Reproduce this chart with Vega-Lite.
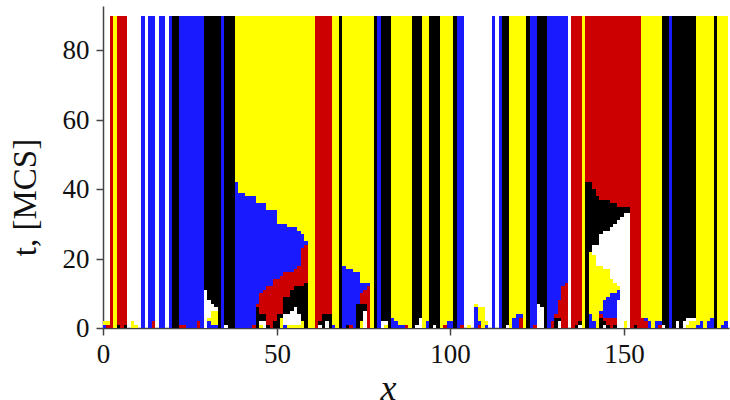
{"$schema":"https://vega.github.io/schema/vega-lite/v6.json","width":626,"height":322,"autosize":"none","padding":{"left":103,"top":6,"right":1,"bottom":72},"background":"white","view":{"stroke":null},"config":{"font":"Liberation Serif"},"data":{"values":[
{"x":2,"x2":3,"t":0,"t2":90,"c":"red"},{"x":3,"x2":4,"t":0,"t2":90,"c":"yellow"},{"x":4,"x2":7,"t":0,"t2":90,"c":"red"},{"x":11,"x2":12,"t":0,"t2":90,"c":"blue"},{"x":13,"x2":15,"t":0,"t2":90,"c":"blue"},{"x":16,"x2":18,"t":0,"t2":90,"c":"blue"},{"x":19,"x2":20,"t":0,"t2":90,"c":"blue"},{"x":20,"x2":22,"t":0,"t2":90,"c":"black"},{"x":22,"x2":29,"t":0,"t2":90,"c":"blue"},{"x":29,"x2":34,"t":0,"t2":90,"c":"black"},{"x":34,"x2":35,"t":0,"t2":90,"c":"blue"},{"x":35,"x2":38,"t":0,"t2":90,"c":"black"},{"x":38,"x2":61,"t":0,"t2":90,"c":"yellow"},{"x":61,"x2":66,"t":0,"t2":90,"c":"red"},{"x":66,"x2":68,"t":0,"t2":90,"c":"yellow"},{"x":68,"x2":69,"t":0,"t2":90,"c":"black"},{"x":69,"x2":78,"t":0,"t2":90,"c":"yellow"},{"x":78,"x2":79,"t":0,"t2":90,"c":"black"},{"x":79,"x2":80,"t":0,"t2":90,"c":"blue"},{"x":80,"x2":83,"t":0,"t2":90,"c":"black"},{"x":83,"x2":89,"t":0,"t2":90,"c":"yellow"},{"x":89,"x2":92,"t":0,"t2":90,"c":"black"},{"x":92,"x2":94,"t":0,"t2":90,"c":"yellow"},{"x":94,"x2":97,"t":0,"t2":90,"c":"black"},{"x":97,"x2":101,"t":0,"t2":90,"c":"yellow"},{"x":101,"x2":102,"t":0,"t2":90,"c":"black"},{"x":102,"x2":104,"t":0,"t2":90,"c":"blue"},{"x":112,"x2":113,"t":0,"t2":90,"c":"blue"},{"x":114,"x2":115,"t":0,"t2":90,"c":"blue"},{"x":115,"x2":117,"t":0,"t2":90,"c":"black"},{"x":117,"x2":122,"t":0,"t2":90,"c":"yellow"},{"x":122,"x2":123,"t":0,"t2":90,"c":"black"},{"x":123,"x2":125,"t":0,"t2":90,"c":"blue"},{"x":125,"x2":128,"t":0,"t2":90,"c":"black"},{"x":128,"x2":134,"t":0,"t2":90,"c":"blue"},{"x":135,"x2":138,"t":0,"t2":90,"c":"red"},{"x":138,"x2":139,"t":0,"t2":90,"c":"yellow"},{"x":139,"x2":155,"t":0,"t2":90,"c":"red"},{"x":155,"x2":161,"t":0,"t2":90,"c":"yellow"},{"x":161,"x2":163,"t":0,"t2":90,"c":"black"},{"x":163,"x2":164,"t":0,"t2":90,"c":"blue"},{"x":164,"x2":171,"t":0,"t2":90,"c":"black"},{"x":171,"x2":176,"t":0,"t2":90,"c":"yellow"},{"x":176,"x2":177,"t":0,"t2":90,"c":"black"},{"x":177,"x2":180,"t":0,"t2":90,"c":"yellow"},
{"x":0,"x2":1,"t":0,"t2":1,"c":"blue"},{"x":1,"x2":2,"t":0,"t2":1,"c":"red"},{"x":0,"x2":2,"t":1,"t2":2,"c":"yellow"},{"x":4,"x2":5,"t":0,"t2":1,"c":"black"},{"x":6,"x2":7,"t":0,"t2":1,"c":"black"},{"x":8,"x2":9,"t":0,"t2":2,"c":"yellow"},{"x":9,"x2":10,"t":0,"t2":1,"c":"yellow"},{"x":14,"x2":15,"t":0,"t2":2,"c":"red"},{"x":22,"x2":24,"t":0,"t2":1,"c":"red"},{"x":27,"x2":28,"t":0,"t2":2,"c":"red"},
{"x":29,"x2":30,"t":0,"t2":11,"c":"white"},{"x":30,"x2":31,"t":3,"t2":8,"c":"white"},{"x":30,"x2":31,"t":2,"t2":3,"c":"yellow"},{"x":30,"x2":31,"t":0,"t2":2,"c":"blue"},{"x":31,"x2":32,"t":5,"t2":7,"c":"white"},{"x":32,"x2":33,"t":5,"t2":6,"c":"white"},{"x":31,"x2":33,"t":1,"t2":5,"c":"yellow"},{"x":31,"x2":33,"t":0,"t2":1,"c":"blue"},{"x":35,"x2":36,"t":0,"t2":1,"c":"white"},
{"x":38,"x2":39,"t":0,"t2":42,"c":"blue"},{"x":39,"x2":41,"t":0,"t2":39,"c":"blue"},{"x":41,"x2":44,"t":0,"t2":38,"c":"blue"},{"x":44,"x2":47,"t":0,"t2":36,"c":"blue"},{"x":47,"x2":50,"t":0,"t2":34,"c":"blue"},{"x":50,"x2":53,"t":0,"t2":30,"c":"blue"},{"x":53,"x2":56,"t":0,"t2":29,"c":"blue"},{"x":56,"x2":57,"t":0,"t2":28,"c":"blue"},{"x":57,"x2":58,"t":0,"t2":27,"c":"blue"},{"x":58,"x2":59,"t":0,"t2":25,"c":"blue"},{"x":43,"x2":44,"t":0,"t2":1,"c":"red"},
{"x":44,"x2":45,"t":0,"t2":7,"c":"red"},{"x":45,"x2":46,"t":0,"t2":10,"c":"red"},{"x":46,"x2":47,"t":0,"t2":11,"c":"red"},{"x":47,"x2":49,"t":0,"t2":12,"c":"red"},{"x":49,"x2":51,"t":0,"t2":14,"c":"red"},{"x":51,"x2":52,"t":0,"t2":15,"c":"red"},{"x":52,"x2":55,"t":0,"t2":16,"c":"red"},{"x":55,"x2":56,"t":0,"t2":17,"c":"red"},{"x":56,"x2":57,"t":0,"t2":18,"c":"red"},{"x":57,"x2":58,"t":0,"t2":23,"c":"red"},{"x":58,"x2":59,"t":0,"t2":24,"c":"red"},
{"x":44,"x2":45,"t":0,"t2":6,"c":"black"},{"x":45,"x2":47,"t":0,"t2":4,"c":"black"},{"x":47,"x2":48,"t":0,"t2":1,"c":"black"},{"x":49,"x2":50,"t":0,"t2":2,"c":"black"},{"x":50,"x2":52,"t":0,"t2":4,"c":"black"},{"x":52,"x2":54,"t":0,"t2":9,"c":"black"},{"x":54,"x2":55,"t":0,"t2":11,"c":"black"},{"x":55,"x2":58,"t":0,"t2":12,"c":"black"},{"x":58,"x2":59,"t":0,"t2":13,"c":"black"},
{"x":45,"x2":47,"t":0,"t2":2,"c":"white"},{"x":45,"x2":46,"t":0,"t2":1,"c":"yellow"},{"x":52,"x2":54,"t":1,"t2":4,"c":"white"},{"x":54,"x2":55,"t":1,"t2":5,"c":"white"},{"x":55,"x2":56,"t":1,"t2":6,"c":"white"},{"x":56,"x2":57,"t":1,"t2":4,"c":"white"},{"x":51,"x2":52,"t":0,"t2":3,"c":"yellow"},{"x":52,"x2":53,"t":0,"t2":1,"c":"blue"},{"x":53,"x2":57,"t":0,"t2":1,"c":"yellow"},{"x":57,"x2":58,"t":0,"t2":2,"c":"yellow"},
{"x":62,"x2":63,"t":0,"t2":2,"c":"black"},{"x":62,"x2":63,"t":0,"t2":1,"c":"white"},{"x":63,"x2":66,"t":0,"t2":4,"c":"black"},{"x":64,"x2":65,"t":0,"t2":2,"c":"white"},{"x":66,"x2":67,"t":0,"t2":1,"c":"blue"},
{"x":69,"x2":70,"t":0,"t2":18,"c":"blue"},{"x":70,"x2":72,"t":0,"t2":17,"c":"blue"},{"x":72,"x2":74,"t":0,"t2":16,"c":"blue"},{"x":74,"x2":77,"t":0,"t2":13,"c":"blue"},{"x":76,"x2":77,"t":0,"t2":12,"c":"red"},{"x":75,"x2":76,"t":7,"t2":11,"c":"red"},{"x":74,"x2":75,"t":7,"t2":10,"c":"red"},{"x":73,"x2":76,"t":0,"t2":7,"c":"black"},{"x":75,"x2":76,"t":0,"t2":5,"c":"white"},{"x":74,"x2":75,"t":0,"t2":2,"c":"yellow"},{"x":70,"x2":71,"t":0,"t2":1,"c":"black"},{"x":71,"x2":72,"t":0,"t2":1,"c":"red"},
{"x":80,"x2":82,"t":0,"t2":2,"c":"white"},{"x":81,"x2":82,"t":0,"t2":1,"c":"yellow"},{"x":83,"x2":84,"t":0,"t2":3,"c":"blue"},{"x":84,"x2":85,"t":0,"t2":2,"c":"blue"},{"x":85,"x2":87,"t":0,"t2":1,"c":"blue"},{"x":87,"x2":88,"t":0,"t2":1,"c":"red"},{"x":90,"x2":92,"t":0,"t2":1,"c":"white"},{"x":91,"x2":92,"t":0,"t2":3,"c":"white"},{"x":93,"x2":94,"t":0,"t2":2,"c":"blue"},{"x":95,"x2":96,"t":0,"t2":1,"c":"white"},{"x":99,"x2":101,"t":0,"t2":2,"c":"blue"},{"x":98,"x2":99,"t":0,"t2":1,"c":"red"},{"x":103,"x2":104,"t":0,"t2":1,"c":"red"},{"x":105,"x2":106,"t":0,"t2":1,"c":"yellow"},
{"x":107,"x2":108,"t":0,"t2":6,"c":"blue"},{"x":107,"x2":108,"t":6,"t2":7,"c":"yellow"},{"x":108,"x2":110,"t":0,"t2":6,"c":"yellow"},{"x":108,"x2":109,"t":0,"t2":2,"c":"blue"},{"x":108,"x2":109,"t":0,"t2":1,"c":"red"},{"x":110,"x2":111,"t":0,"t2":2,"c":"yellow"},{"x":110,"x2":111,"t":0,"t2":1,"c":"blue"},{"x":116,"x2":117,"t":0,"t2":1,"c":"white"},{"x":118,"x2":119,"t":0,"t2":3,"c":"blue"},{"x":119,"x2":121,"t":0,"t2":4,"c":"blue"},{"x":120,"x2":121,"t":0,"t2":3,"c":"red"},
{"x":124,"x2":125,"t":0,"t2":1,"c":"red"},{"x":125,"x2":126,"t":0,"t2":7,"c":"white"},{"x":126,"x2":127,"t":0,"t2":6,"c":"white"},{"x":129,"x2":130,"t":0,"t2":2,"c":"red"},{"x":130,"x2":131,"t":0,"t2":4,"c":"red"},{"x":131,"x2":132,"t":0,"t2":8,"c":"red"},{"x":132,"x2":133,"t":0,"t2":12,"c":"red"},{"x":133,"x2":134,"t":0,"t2":13,"c":"red"},{"x":130,"x2":132,"t":0,"t2":3,"c":"black"},{"x":131,"x2":132,"t":0,"t2":2,"c":"white"},{"x":136,"x2":137,"t":0,"t2":1,"c":"black"},{"x":137,"x2":138,"t":0,"t2":2,"c":"black"},{"x":137,"x2":138,"t":0,"t2":1,"c":"white"},
{"x":139,"x2":141,"t":0,"t2":42,"c":"black"},{"x":141,"x2":142,"t":0,"t2":40,"c":"black"},{"x":142,"x2":143,"t":0,"t2":38,"c":"black"},{"x":143,"x2":146,"t":0,"t2":37,"c":"black"},{"x":146,"x2":148,"t":0,"t2":36,"c":"black"},{"x":148,"x2":152,"t":0,"t2":35,"c":"black"},
{"x":150,"x2":152,"t":0,"t2":33,"c":"white"},{"x":149,"x2":150,"t":0,"t2":32,"c":"white"},{"x":148,"x2":149,"t":0,"t2":31,"c":"white"},{"x":147,"x2":148,"t":0,"t2":30,"c":"white"},{"x":146,"x2":147,"t":0,"t2":29,"c":"white"},{"x":144,"x2":146,"t":0,"t2":28,"c":"white"},{"x":143,"x2":144,"t":0,"t2":27,"c":"white"},{"x":141,"x2":143,"t":0,"t2":24,"c":"white"},
{"x":140,"x2":141,"t":0,"t2":22,"c":"yellow"},{"x":141,"x2":142,"t":0,"t2":21,"c":"yellow"},{"x":142,"x2":144,"t":0,"t2":18,"c":"yellow"},{"x":144,"x2":146,"t":0,"t2":17,"c":"yellow"},{"x":146,"x2":147,"t":0,"t2":14,"c":"yellow"},{"x":147,"x2":148,"t":0,"t2":13,"c":"yellow"},{"x":148,"x2":149,"t":10,"t2":12,"c":"yellow"},
{"x":140,"x2":141,"t":0,"t2":4,"c":"blue"},{"x":141,"x2":142,"t":0,"t2":2,"c":"blue"},{"x":143,"x2":144,"t":0,"t2":5,"c":"blue"},{"x":144,"x2":145,"t":0,"t2":8,"c":"blue"},{"x":145,"x2":146,"t":0,"t2":9,"c":"blue"},{"x":146,"x2":148,"t":0,"t2":10,"c":"blue"},{"x":148,"x2":149,"t":8,"t2":11,"c":"blue"},
{"x":143,"x2":148,"t":0,"t2":3,"c":"red"},{"x":143,"x2":144,"t":3,"t2":4,"c":"red"},{"x":143,"x2":144,"t":0,"t2":3,"c":"black"},{"x":144,"x2":145,"t":0,"t2":2,"c":"black"},{"x":144,"x2":145,"t":0,"t2":1,"c":"white"},{"x":145,"x2":146,"t":0,"t2":1,"c":"black"},{"x":147,"x2":148,"t":0,"t2":1,"c":"black"},{"x":150,"x2":151,"t":0,"t2":2,"c":"yellow"},
{"x":153,"x2":154,"t":0,"t2":1,"c":"black"},{"x":155,"x2":156,"t":0,"t2":3,"c":"red"},{"x":156,"x2":157,"t":0,"t2":2,"c":"red"},{"x":156,"x2":157,"t":2,"t2":3,"c":"blue"},{"x":157,"x2":158,"t":0,"t2":2,"c":"blue"},{"x":159,"x2":161,"t":0,"t2":2,"c":"blue"},{"x":160,"x2":161,"t":0,"t2":1,"c":"red"},{"x":161,"x2":162,"t":0,"t2":1,"c":"white"},
{"x":165,"x2":166,"t":0,"t2":2,"c":"white"},{"x":167,"x2":168,"t":0,"t2":2,"c":"white"},{"x":168,"x2":171,"t":0,"t2":3,"c":"white"},{"x":168,"x2":169,"t":0,"t2":1,"c":"yellow"},{"x":169,"x2":171,"t":0,"t2":2,"c":"yellow"},{"x":171,"x2":172,"t":0,"t2":1,"c":"blue"},{"x":172,"x2":173,"t":0,"t2":2,"c":"blue"},{"x":174,"x2":175,"t":0,"t2":2,"c":"blue"},{"x":175,"x2":176,"t":0,"t2":3,"c":"blue"},{"x":178,"x2":179,"t":0,"t2":1,"c":"blue"},{"x":179,"x2":180,"t":0,"t2":2,"c":"blue"}
]},
"mark":{"type":"rect","strokeWidth":0},
"encoding":{
"x":{"field":"x","type":"quantitative","scale":{"domain":[0,180.4],"nice":false,"zero":false,"round":true},"axis":{"values":[0,50,100,150],"title":"x","titleFontStyle":"italic","titleFontWeight":"normal","titleFontSize":36,"titleFont":"Liberation Serif","titleColor":"#111","titleX":285,"titleY":71,"titleAlign":"center","titleBaseline":"alphabetic","labelFont":"Liberation Serif","labelFontSize":27,"labelColor":"#111","labelPadding":6,"labelFlush":false,"labelOverlap":false,"grid":false,"tickSize":7,"tickWidth":1.5,"tickColor":"#444","domainColor":"#444","domainWidth":1.5}},
"x2":{"field":"x2"},
"y":{"field":"t","type":"quantitative","scale":{"domain":[0,92.8],"nice":false,"zero":false,"round":true},"axis":{"values":[0,20,40,60,80],"title":"t, [MCS]","titleFontWeight":"normal","titleFontSize":33,"titleFont":"Liberation Serif","titleColor":"#111","titleX":-68,"titleY":191,"titleAngle":-90,"titleAlign":"center","titleBaseline":"alphabetic","labelFont":"Liberation Serif","labelFontSize":27,"labelColor":"#111","labelPadding":7,"labelOverlap":false,"grid":false,"tickSize":7,"tickWidth":1.5,"tickColor":"#444","domainColor":"#444","domainWidth":1.5}},
"y2":{"field":"t2"},
"color":{"field":"c","type":"nominal","legend":null,"scale":{"domain":["red","yellow","blue","black","white"],"range":["#cc0000","#ffff00","#1a1aff","#000000","#ffffff"]}}
}}
